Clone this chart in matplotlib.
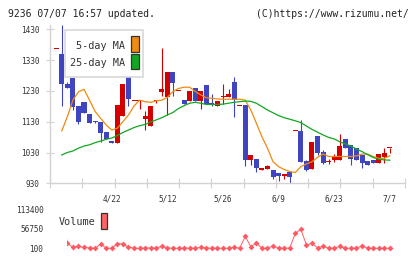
import numpy as np
import matplotlib
matplotlib.use("Agg")
import matplotlib.pyplot as plt
from matplotlib.patches import Rectangle

# daily candles, index 0..60 (blue = down, red = up)
opens = [1368, 1350, 1254, 1271, 1181, 1193, 1155, 1130, 1130, 1095,
         1068, 1060, 1150, 1282, 1200, 1200, 1138, 1116, 1200, 1227,
         1209, 1291, 1230, 1200, 1198, 1238, 1198, 1249, 1192, 1182,
         1213, 1211, 1259, 1183, 1183, 1006, 1009, 973, 977, 973,
         963, 955, 966, 1103, 1100, 1002, 977, 1084, 1032, 1001,
         1006, 1006, 1074, 1053, 1045, 1022, 1002, 1006, 996, 1015, 1045]
highs = [1368, 1444, 1260, 1271, 1181, 1193, 1155, 1132, 1130, 1095,
         1068, 1184, 1252, 1282, 1200, 1200, 1166, 1181, 1200, 1368,
         1292, 1291, 1230, 1200, 1230, 1238, 1230, 1249, 1220, 1197,
         1252, 1236, 1275, 1183, 1183, 1022, 1009, 980, 991, 973,
         963, 961, 966, 1103, 1136, 1006, 1064, 1084, 1038, 1009,
         1025, 1090, 1074, 1053, 1045, 1022, 1002, 1006, 1025, 1045, 1045]
lows = [1368, 1181, 1238, 1168, 1121, 1157, 1127, 1125, 1065, 1073,
        1062, 1060, 1150, 1181, 1200, 1170, 1103, 1116, 1190, 1213,
        1152, 1213, 1230, 1187, 1198, 1198, 1170, 1187, 1181, 1182,
        1187, 1211, 1146, 1183, 987, 989, 968, 973, 977, 943,
        939, 943, 930, 1103, 1000, 970, 977, 1022, 993, 993,
        999, 1006, 1046, 989, 1006, 979, 989, 995, 996, 995, 1029]
closes = [1368, 1254, 1238, 1179, 1130, 1157, 1127, 1127, 1094, 1073,
          1062, 1184, 1252, 1204, 1200, 1200, 1148, 1181, 1200, 1236,
          1292, 1257, 1230, 1187, 1230, 1198, 1230, 1187, 1183, 1197,
          1216, 1220, 1200, 1183, 1006, 1022, 981, 980, 987, 952,
          955, 961, 949, 1103, 1000, 974, 1064, 1029, 997, 1001,
          1016, 1051, 1046, 1009, 1006, 995, 989, 995, 1025, 1029, 1045]

nan = float("nan")
ma5 = [nan, 1100, 1146, 1200, 1227, 1235, 1200, 1163, 1141, 1119,
       1103, 1109, 1130, 1152, 1181, 1200, 1195, 1193, 1198, 1200,
       1209, 1228, 1238, 1242, 1242, 1228, 1217, 1208, 1206, 1204,
       1203, 1203, 1203, 1203, 1200, 1168, 1125, 1081, 1044, 1000,
       984, 975, 968, 965, 984, 993, 1000, 1014, 1025, 1017,
       1017, 1017, 1017, 1017, 1019, 1025, 1025, 1017, 1011, 1011, 1019]
ma25 = [nan, 1022, 1030, 1035, 1044, 1051, 1055, 1062, 1067, 1073,
        1077, 1085, 1095, 1103, 1111, 1117, 1121, 1129, 1136, 1143,
        1152, 1160, 1173, 1182, 1190, 1193, 1190, 1186, 1186, 1186,
        1187, 1190, 1193, 1195, 1197, 1196, 1190, 1179, 1168, 1159,
        1150, 1143, 1138, 1133, 1127, 1116, 1105, 1096, 1087, 1079,
        1074, 1065, 1058, 1051, 1041, 1033, 1023, 1014, 1008, 1006, 1005]

# volume for days 1..60
volume = [113400, 14500, 2900, 5800, 2900, 970, 300, 12600, 300, 100,
          13600, 12600, 3900, 100, 100, 970, 970, 970, 5800, 970,
          300, 100, 970, 100, 100, 2900, 970, 100, 100, 300,
          100, 2900, 100, 34900, 4800, 15500, 100, 100, 7700, 300,
          300, 970, 43600, 55200, 9700, 14500, 1900, 5800, 300, 300,
          5800, 100, 300, 100, 7700, 100, 100, 100, 300, 300]

date_idx = [10, 20, 30, 40, 50, 60]
date_labels = ["4/22", "5/12", "5/26", "6/9", "6/23", "7/7"]
price_ticks = [930, 1030, 1130, 1230, 1330, 1430]
vol_ticks = [100, 56750, 113400]

W, H = 420, 259
RED, BLUE = "#d40000", "#3f44c0"
ORANGE, GREEN = "#f08a10", "#10a820"
VOLC = "#ff5a64"
GRID = "#d2d2d2"
TXT = "#333333"
MONO = "DejaVu Sans Mono"


def fx(px):
    return px / W


def fy(py):
    return 1 - py / H


fig = plt.figure(figsize=(W / 100, H / 100), dpi=100)

# price panel
x0, x1 = -1.115, 62.73
ax = fig.add_axes([fx(50), fy(183.3), fx(405) - fx(50), fy(25) - fy(183.3)])
ax.set_xlim(x0, x1)
ax.set_ylim(930, 1444)

idx = np.arange(len(opens))
o = np.array(opens, float)
c = np.array(closes, float)
cols = [RED if cc >= oo else BLUE for oo, cc in zip(o, c)]
ax.vlines(idx, lows, highs, colors=cols, linewidth=0.8, zorder=2)
hgt = np.maximum(np.abs(c - o), 3.2)
bot = np.where(np.abs(c - o) < 3.2, o - 1.6, np.minimum(o, c))
ax.bar(idx, hgt, bottom=bot, width=0.9, color=cols, linewidth=0, zorder=3)
ax.plot(idx, ma5, color=ORANGE, linewidth=0.9, zorder=4)
ax.plot(idx, ma25, color=GREEN, linewidth=0.9, zorder=4)

for s in ["top", "right"]:
    ax.spines[s].set_visible(False)
for s in ["left", "bottom"]:
    ax.spines[s].set_color(GRID)
    ax.spines[s].set_linewidth(1.0)

ax.set_yticks(price_ticks)
ax.set_yticklabels([str(v) for v in price_ticks], fontfamily=MONO, fontsize=5.6, color=TXT)
ax.tick_params(axis="y", direction="inout", length=5.8, width=0.8, color=GRID, pad=4.6)
ax.set_xticks(date_idx)
ax.set_xticklabels(date_labels, fontfamily=MONO, fontsize=5.6, color=TXT)
ax.set_xticks(np.linspace(x0, x1, 12), minor=True)
ax.tick_params(axis="x", which="major", length=0, pad=8.4)
ax.tick_params(axis="x", which="minor", direction="inout", length=7, width=0.8, color=GRID)

# price legend
fig.patches.append(Rectangle((fx(65), fy(77)), fx(143) - fx(65), fy(30) - fy(77),
                             transform=fig.transFigure, facecolor="white",
                             edgecolor="#d8d8d8", linewidth=1.2, zorder=5))
fig.text(fx(125), fy(46), "5-day MA", ha="right", va="center", fontfamily=MONO,
         fontsize=7.3, color=TXT, zorder=6)
fig.text(fx(125), fy(62.5), "25-day MA", ha="right", va="center", fontfamily=MONO,
         fontsize=7.3, color=TXT, zorder=6)
fig.patches.append(Rectangle((fx(131), fy(52)), fx(8), fy(36) - fy(52),
                             transform=fig.transFigure, facecolor=ORANGE,
                             edgecolor="#333333", linewidth=0.9, zorder=6))
fig.patches.append(Rectangle((fx(131), fy(69)), fx(8), fy(54) - fy(69),
                             transform=fig.transFigure, facecolor=GREEN,
                             edgecolor="#333333", linewidth=0.9, zorder=6))

# volume panel
vx0 = (66.5 - 56.2) / 5.56
ax2 = fig.add_axes([fx(66.5), fy(252), fx(405) - fx(66.5), fy(205) - fy(252)])
ax2.set_xlim(vx0, x1)
ax2.set_ylim(-10650, 125900)
ax2.plot(idx[1:], volume, color=VOLC, linewidth=0.7, marker="D", markersize=3.0,
         markeredgewidth=0)
for s in ax2.spines.values():
    s.set_visible(False)
ax2.set_xticks([])
ax2.set_yticks(vol_ticks)
ax2.set_yticklabels([str(v) for v in vol_ticks], fontfamily=MONO, fontsize=5.6, color=TXT)
ax2.tick_params(axis="y", length=0, pad=16.7)
ax2.patch.set_alpha(0)

fig.text(fx(59), fy(221.7), "Volume", ha="left", va="center", fontfamily=MONO,
         fontsize=7.3, color=TXT)
fig.patches.append(Rectangle((fx(101), fy(228.7)), fx(6.3), fy(213.3) - fy(228.7),
                             transform=fig.transFigure, facecolor="#ff6464",
                             edgecolor="#333333", linewidth=0.9))

# header
fig.text(fx(8), fy(13.7), "9236 07/07 16:57 updated.", ha="left", va="center",
         fontfamily=MONO, fontsize=7.0, color="#222222")
fig.text(fx(409), fy(13.7), "(C)https://www.rizumu.net/", ha="right", va="center",
         fontfamily=MONO, fontsize=7.0, color="#222222")

fig.savefig("out.png", dpi=100)
